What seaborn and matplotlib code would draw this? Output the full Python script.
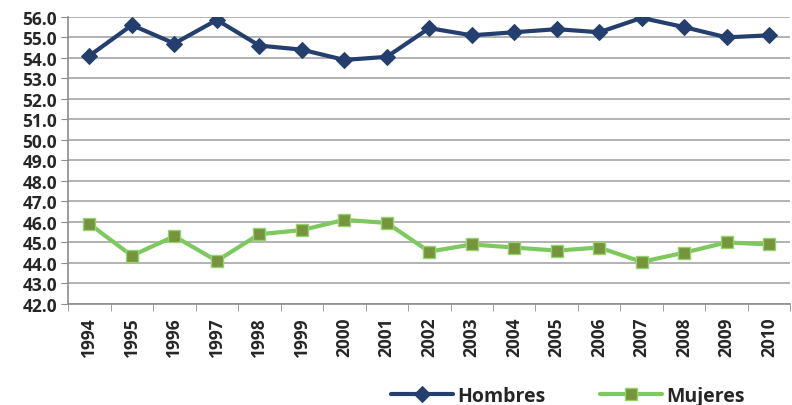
import seaborn as sns
import matplotlib.pyplot as plt
import pandas as pd

years = ['1994', '1995', '1996', '1997', '1998', '1999', '2000', '2001', '2002',
         '2003', '2004', '2005', '2006', '2007', '2008', '2009', '2010']
hombres = [54.1, 55.6, 54.7, 55.85, 54.6, 54.4, 53.9, 54.05, 55.45,
           55.1, 55.25, 55.4, 55.25, 55.95, 55.5, 55.0, 55.1]
mujeres = [45.9, 44.35, 45.3, 44.1, 45.4, 45.6, 46.1, 45.95, 44.55,
           44.9, 44.75, 44.6, 44.75, 44.05, 44.5, 45.0, 44.9]

df = pd.DataFrame({'idx': range(len(years)), 'Hombres': hombres, 'Mujeres': mujeres})

sns.set_style('white')
plt.rcParams['font.family'] = ['Open Sans', 'DejaVu Sans']

fig = plt.figure(figsize=(7.92, 4.06), dpi=100)
ax = fig.add_axes([0.086, 0.249, 0.912, 0.707])

sns.lineplot(data=df, x='idx', y='Hombres', ax=ax, color='#243F6E', linewidth=3,
             marker='D', markersize=8.5, markeredgecolor='#243F6E', label='Hombres')
sns.lineplot(data=df, x='idx', y='Mujeres', ax=ax, color='#7DC95E', linewidth=3,
             marker='s', markersize=8, markerfacecolor='#77933C',
             markeredgecolor='#92D36E', markeredgewidth=1, label='Mujeres')

ax.set_ylim(42, 56)
ax.set_yticks([42 + i for i in range(15)])
ax.set_yticklabels([f'{42 + i:.1f}' for i in range(15)], fontsize=12.5, fontweight='bold')
ax.set_xlim(-0.5, len(years) - 0.5)
ax.set_xticks(range(len(years)))
ax.set_xticklabels(years, rotation=90, fontsize=12.5, fontweight='bold')
ax.set_xticks([i - 0.5 for i in range(len(years) + 1)], minor=True)
ax.tick_params(axis='x', which='major', length=0, pad=9)
ax.tick_params(axis='x', which='minor', length=5, color='#8C8C8C', direction='out', bottom=True)
ax.tick_params(axis='y', length=5, color='#8C8C8C', direction='out', left=True, pad=3)
ax.set_xlabel('')
ax.set_ylabel('')
ax.grid(axis='y', color='#A6A6A6', linewidth=1.2)
ax.grid(axis='x', visible=False)
for s in ['top', 'right']:
    ax.spines[s].set_visible(False)
for s in ['left', 'bottom']:
    ax.spines[s].set_color('#8C8C8C')
    ax.spines[s].set_linewidth(1.2)

ax.get_legend().remove()
handles, labels = ax.get_legend_handles_labels()
fig.legend(handles, labels, loc='lower center', bbox_to_anchor=(0.717, -0.045), ncol=2,
           frameon=False, columnspacing=2.8, handlelength=3.2, handletextpad=0.2,
           prop={'weight': 'bold', 'size': 14})

fig.savefig('out.png', dpi=100)
